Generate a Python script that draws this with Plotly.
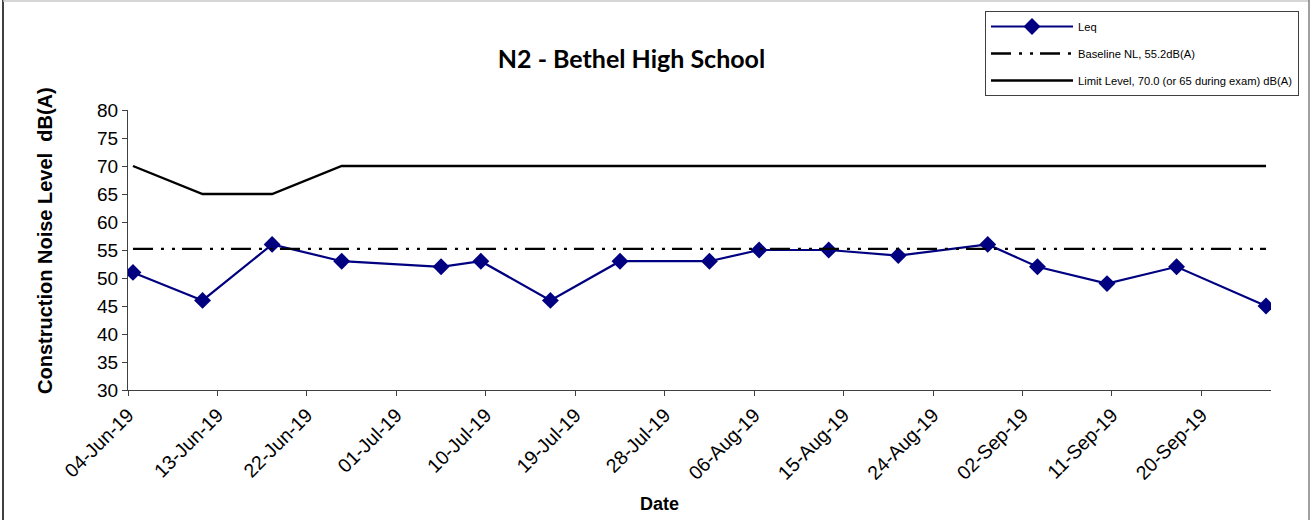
import pandas as pd
import plotly.graph_objects as go

# ---- data ----
dates = ["2019-06-04", "2019-06-11", "2019-06-18", "2019-06-25", "2019-07-05",
         "2019-07-09", "2019-07-16", "2019-07-23", "2019-08-01", "2019-08-06",
         "2019-08-13", "2019-08-20", "2019-08-29", "2019-09-03", "2019-09-10",
         "2019-09-17", "2019-09-26"]
leq = [51, 46, 56, 53, 52, 53, 46, 53, 53, 55, 55, 54, 56, 52, 49, 52, 45]
baseline = [55.2] * len(dates)
limit = [70, 65, 65, 70, 70, 70, 70, 70, 70, 70, 70, 70, 70, 70, 70, 70, 70]
tick_dates = ["2019-06-04", "2019-06-13", "2019-06-22", "2019-07-01", "2019-07-10",
              "2019-07-19", "2019-07-28", "2019-08-06", "2019-08-15", "2019-08-24",
              "2019-09-02", "2019-09-11", "2019-09-20"]
tick_labels = ["04-Jun-19", "13-Jun-19", "22-Jun-19", "01-Jul-19", "10-Jul-19",
               "19-Jul-19", "28-Jul-19", "06-Aug-19", "15-Aug-19", "24-Aug-19",
               "02-Sep-19", "11-Sep-19", "20-Sep-19"]
y_ticks = [30, 35, 40, 45, 50, 55, 60, 65, 70, 75, 80]

# points sit in the middle of each day (Excel date axis)
x = pd.to_datetime(dates) + pd.Timedelta(hours=12)

W, H = 1311, 520
L, R, T, B = 128, 40, 110, 130
pw, ph = W - L - R, H - T - B


def px_x(p):
    return (p - L) / pw


def px_y(p):
    return 1 - (p - T) / ph


fig = go.Figure()
fig.add_trace(go.Scatter(
    x=x, y=leq, mode="lines+markers", name="Leq", legendgroup="a",
    line=dict(color="#000080", width=2.2),
    marker=dict(symbol="diamond", size=13, color="#000080")))
fig.add_trace(go.Scatter(
    x=x, y=baseline, mode="lines", name="Baseline NL, 55.2dB(A)", legendgroup="b",
    line=dict(color="black", width=2.4, dash="20px,8px,3px,8px,3px,7px")))
fig.add_trace(go.Scatter(
    x=x, y=limit, mode="lines", name="Limit Level, 70.0 (or 65 during exam) dB(A)",
    legendgroup="c", line=dict(color="black", width=2.4)))

fig.update_layout(
    width=W, height=H,
    margin=dict(l=L, r=R, t=T, b=B, autoexpand=False),
    paper_bgcolor="white", plot_bgcolor="white",
    font=dict(family="Liberation Sans, Arial", color="black"),
    title=dict(text="<b>N2 - Bethel High School</b>",
               font=dict(family="Lato", size=25, color="black"),
               x=631.5 / W, xanchor="center", xref="container",
               y=1 - 59 / H, yanchor="middle", yref="container"),
    showlegend=True,
    legend=dict(
        x=px_x(985), y=px_y(11), xanchor="left", yanchor="top",
        bgcolor="white", bordercolor="#404040", borderwidth=1,
        font=dict(size=11.2, family="Liberation Sans, Arial"),
        tracegroupgap=8, itemwidth=82,
    ),
    xaxis=dict(
        type="date",
        range=["2019-06-04", "2019-09-27"],
        tickvals=pd.to_datetime(tick_dates), ticktext=tick_labels,
        tickangle=-45, tickfont=dict(size=19.5),
        ticks="outside", ticklen=5, tickcolor="#404040",
        showline=True, linecolor="#404040", linewidth=1,
        showgrid=False, zeroline=False,
    ),
    yaxis=dict(
        range=[30, 80], tickvals=y_ticks,
        tickfont=dict(size=19),
        ticks="outside", ticklen=5, tickcolor="#404040",
        showline=True, linecolor="#404040", linewidth=1,
        showgrid=False, zeroline=False,
    ),
    annotations=[
        dict(text="<b>Construction Noise Level  dB(A)</b>", textangle=-90,
             xref="paper", yref="paper", x=px_x(45), y=px_y(241),
             xanchor="center", yanchor="middle", showarrow=False,
             font=dict(size=20, family="Liberation Sans, Arial")),
        dict(text="<b>Date</b>",
             xref="paper", yref="paper", x=px_x(659), y=px_y(504),
             xanchor="center", yanchor="middle", showarrow=False,
             font=dict(size=18, family="Liberation Sans, Arial")),
    ],
    shapes=[
        dict(type="line", xref="paper", yref="paper",
             x0=px_x(3), x1=px_x(3), y0=px_y(0), y1=px_y(H),
             line=dict(color="black", width=1.5)),
        dict(type="line", xref="paper", yref="paper",
             x0=px_x(3), x1=px_x(1309), y0=px_y(1), y1=px_y(1),
             line=dict(color="#c8c8c8", width=1.5)),
        dict(type="line", xref="paper", yref="paper",
             x0=px_x(1309), x1=px_x(1309), y0=px_y(0), y1=px_y(H),
             line=dict(color="#808080", width=1.5)),
    ],
)

fig.write_html("out.html",
               config={"displayModeBar": False},
               post_script="document.body.style.margin='0';"
                           "document.body.style.overflow='hidden';")
